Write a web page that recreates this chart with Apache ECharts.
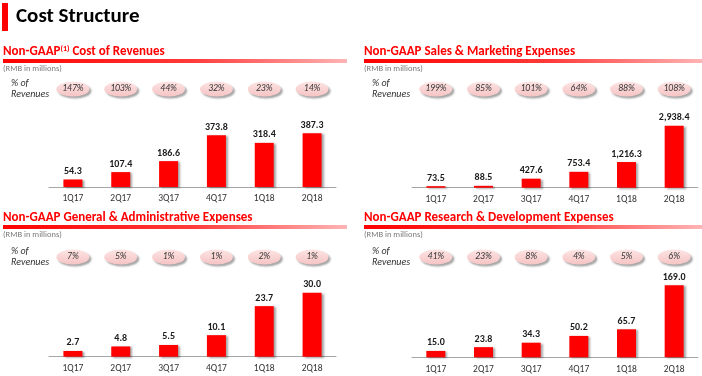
<!DOCTYPE html>
<html>
<head>
<meta charset="utf-8">
<script src="https://cdn.jsdelivr.net/npm/echarts@6/dist/echarts.min.js"></script>
<style>
  html, body { margin: 0; padding: 0; background: #fff; }
  #chart { width: 702px; height: 376px; }
</style>
</head>
<body>
<div id="chart"></div>
<script>
// data (RMB in millions)
const quarters = ['1Q17', '2Q17', '3Q17', '4Q17', '1Q18', '2Q18'];

const costOfRevenues = [54.3, 107.4, 186.6, 373.8, 318.4, 387.3];
const costOfRevenuesPct = [147, 103, 44, 32, 23, 14];

const salesMarketing = [73.5, 88.5, 427.6, 753.4, 1216.3, 2938.4];
const salesMarketingPct = [199, 85, 101, 64, 88, 108];

const generalAdmin = [2.7, 4.8, 5.5, 10.1, 23.7, 30.0];
const generalAdminPct = [7, 5, 1, 1, 2, 1];

const researchDev = [15.0, 23.8, 34.3, 50.2, 65.7, 169.0];
const researchDevPct = [41, 23, 8, 4, 5, 6];

const FONT = 'Carlito, Lato, "Liberation Sans", sans-serif';

// where each panel sits on the page
const panels = [
  { title: 'Non-GAAP{sup|(1)} Cost of Revenues', values: costOfRevenues, pct: costOfRevenuesPct,
    x: 3, lineEnd: 347, headY: 52, gridLeft: 49, gridWidth: 287, barTop: 133.3, barBottom: 187, pctY: 89 },
  { title: 'Non-GAAP Sales & Marketing Expenses', values: salesMarketing, pct: salesMarketingPct,
    x: 364, lineEnd: 702, headY: 52, gridLeft: 412, gridWidth: 286, barTop: 125.7, barBottom: 187.7, pctY: 89 },
  { title: 'Non-GAAP General & Administrative Expenses', values: generalAdmin, pct: generalAdminPct,
    x: 3, lineEnd: 347, headY: 218, gridLeft: 49, gridWidth: 287, barTop: 292.7, barBottom: 356.7, pctY: 257 },
  { title: 'Non-GAAP Research & Development Expenses', values: researchDev, pct: researchDevPct,
    x: 364, lineEnd: 702, headY: 218, gridLeft: 412, gridWidth: 286, barTop: 285.3, barBottom: 357.3, pctY: 257 }
];

const fmt = v => v.toLocaleString('en-US', { minimumFractionDigits: 1, maximumFractionDigits: 1 });

const grid = [], xAxis = [], yAxis = [], series = [], graphic = [];

// page title
graphic.push({ type: 'rect', shape: { x: 2, y: 3, width: 6, height: 28 }, style: { fill: '#ff0000' } });
graphic.push({ type: 'text', x: 16, y: 17,
  style: { text: 'Cost Structure', fill: '#000', font: 'bold 21px ' + FONT, verticalAlign: 'middle' } });

panels.forEach((p, k) => {
  // header, gradient underline, unit note
  graphic.push({ type: 'text', x: p.x, y: p.headY,
    style: { text: p.title, fill: '#ff0000', font: 'bold 13px ' + FONT, verticalAlign: 'middle',
      rich: { sup: { fill: '#ff0000', font: 'bold 8px ' + FONT, padding: [0, 0, 6, 0] } } } });
  graphic.push({ type: 'rect', shape: { x: p.x, y: p.headY + 7, width: p.lineEnd - p.x, height: 4 },
    style: { fill: new echarts.graphic.LinearGradient(0, 0, 1, 0, [
      { offset: 0, color: '#ff0000' }, { offset: 0.55, color: '#ff3a3a' }, { offset: 1, color: '#ffb4b4' }]) } });
  graphic.push({ type: 'text', x: p.x, y: p.headY + 17,
    style: { text: '(RMB in millions)', fill: '#7a7a7a', font: '8.5px ' + FONT, verticalAlign: 'middle' } });

  // bar grid
  const b = k * 2, r = k * 2 + 1;
  grid.push({ left: p.gridLeft, width: p.gridWidth, top: p.barTop, height: p.barBottom - p.barTop });
  xAxis.push({ gridIndex: b, type: 'category', data: quarters,
    axisLine: { lineStyle: { color: '#a6a6a6' } },
    axisTick: { length: 4, lineStyle: { color: '#a6a6a6' } },
    axisLabel: { color: '#333', fontSize: 9.5, fontFamily: FONT, margin: 7 } });
  yAxis.push({ gridIndex: b, type: 'value', min: 0, max: 'dataMax', show: false });
  series.push({ type: 'bar', xAxisIndex: b, yAxisIndex: b, data: p.values, barWidth: 19,
    itemStyle: { color: '#ff0000', shadowColor: 'rgba(0,0,0,0.35)', shadowBlur: 2, shadowOffsetX: 2, shadowOffsetY: 1 },
    label: { show: true, position: 'top', distance: 3, formatter: d => fmt(d.value),
      color: '#1a1a1a', fontWeight: 'bold', fontSize: 10, fontFamily: FONT } });

  // "% of Revenues" row of pills
  grid.push({ left: p.gridLeft, width: p.gridWidth, top: p.pctY - 9, height: 18 });
  xAxis.push({ gridIndex: r, type: 'category', data: quarters, show: false });
  yAxis.push({ gridIndex: r, type: 'category', data: ['% of\nRevenues'],
    axisLine: { show: false }, axisTick: { show: false },
    axisLabel: { align: 'left', margin: p.gridLeft - p.x - 8, fontStyle: 'italic', fontSize: 10,
      lineHeight: 11, color: '#333', fontFamily: FONT } });
  series.push({ type: 'scatter', xAxisIndex: r, yAxisIndex: r, symbol: 'circle', symbolSize: [33, 15],
    data: p.pct.map((v, i) => [quarters[i], '% of\nRevenues', v]),
    itemStyle: { opacity: 1, color: new echarts.graphic.LinearGradient(0, 0, 0, 1, [
        { offset: 0, color: '#fde4e4' }, { offset: 1, color: '#f6c4c4' }]),
      shadowColor: 'rgba(0,0,0,0.35)', shadowBlur: 2, shadowOffsetX: 2, shadowOffsetY: 2 },
    label: { show: true, position: 'inside', formatter: d => d.value[2] + '%',
      fontStyle: 'italic', fontSize: 9.5, color: '#333', fontFamily: FONT } });
});

const chart = echarts.init(document.getElementById('chart'));
chart.setOption({ animation: false, grid, xAxis, yAxis, series, graphic });
</script>
</body>
</html>
